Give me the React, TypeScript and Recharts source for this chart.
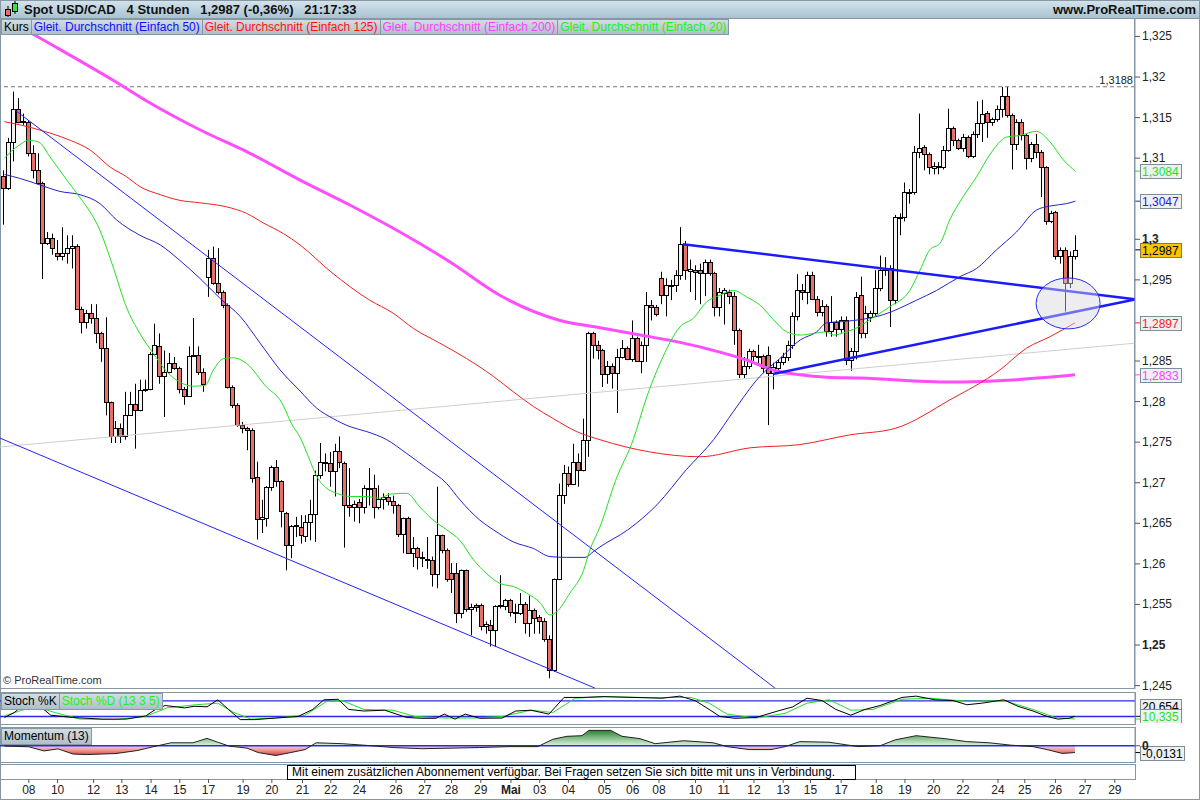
import React from 'react';
import { ComposedChart, Bar, Line, Area, XAxis, YAxis, ReferenceLine, ReferenceDot } from 'recharts';

// 4h candles (index 0 = first candle on the left)
const OPEN = [
  1.3078, 1.3063, 1.3120, 1.3160, 1.3146, 1.3145, 1.3106, 1.3086, 1.3069, 1.2995,
  1.3001, 1.2983, 1.2979, 1.2983, 1.2989, 1.2992, 1.2914, 1.2898, 1.2909, 1.2903,
  1.2884, 1.2866, 1.2799, 1.2758, 1.2768, 1.2758, 1.2784, 1.2797, 1.2790, 1.2814,
  1.2816, 1.2859, 1.2869, 1.2832, 1.2836, 1.2848, 1.2841, 1.2815, 1.2807, 1.2856,
  1.2857, 1.2836, 1.2953, 1.2977, 1.2946, 1.2935, 1.2919, 1.2818, 1.2796, 1.2771,
  1.2767, 1.2765, 1.2707, 1.2655, 1.2657, 1.2695, 1.2719, 1.2702, 1.2663, 1.2623,
  1.2647, 1.2646, 1.2634, 1.2652, 1.2661, 1.2709, 1.2724, 1.2724, 1.2715, 1.2739,
  1.2724, 1.2672, 1.2670, 1.2676, 1.2670, 1.2694, 1.2694, 1.2670, 1.2680, 1.2683,
  1.2677, 1.2672, 1.2637, 1.2657, 1.2614, 1.2619, 1.2609, 1.2605, 1.2605, 1.2587,
  1.2635, 1.2617, 1.2589, 1.2589, 1.2540, 1.2593, 1.2544, 1.2549, 1.2549, 1.2523,
  1.2525, 1.2519, 1.2548, 1.2548, 1.2555, 1.2541, 1.2539, 1.2550, 1.2527, 1.2543,
  1.2534, 1.2529, 1.2508, 1.2469, 1.2581, 1.2685, 1.2712, 1.2699, 1.2726, 1.2716,
  1.2753, 1.2884, 1.2870, 1.2863, 1.2834, 1.2844, 1.2835, 1.2855, 1.2866, 1.2853,
  1.2878, 1.2850, 1.2870, 1.2919, 1.2917, 1.2952, 1.2931, 1.2944, 1.2944, 1.2956,
  1.2994, 1.2961, 1.2962, 1.2962, 1.2958, 1.2972, 1.2958, 1.2916, 1.2934, 1.2935,
  1.2930, 1.2888, 1.2834, 1.2844, 1.2862, 1.2855, 1.2856, 1.2858, 1.2835, 1.2841,
  1.2849, 1.2855, 1.2870, 1.2905, 1.2938, 1.2935, 1.2956, 1.2927, 1.2911, 1.2918,
  1.2887, 1.2898, 1.2890, 1.2901, 1.2851, 1.2862, 1.2931, 1.2884, 1.2904, 1.2909,
  1.2940, 1.2962, 1.2965, 1.2925, 1.3027, 1.3028, 1.3057, 1.3058, 1.3108, 1.3114,
  1.3105, 1.3088, 1.3089, 1.3089, 1.3110, 1.3137, 1.3122, 1.3112, 1.3126, 1.3103,
  1.3130, 1.3143, 1.3156, 1.3144, 1.3148, 1.3160, 1.3176, 1.3153, 1.3117, 1.3145,
  1.3129, 1.3100, 1.3117, 1.3108, 1.3089, 1.3022, 1.3034, 1.2979, 1.2987, 1.2946, 1.2979,
];
const HIGH = [
  1.3085, 1.3125, 1.3182, 1.3174, 1.3155, 1.3147, 1.3116, 1.3106, 1.3071, 1.3009,
  1.3007, 1.2999, 1.3015, 1.3005, 1.3005, 1.2994, 1.2917, 1.2913, 1.2920, 1.2920,
  1.2886, 1.2904, 1.2800, 1.2776, 1.2773, 1.2812, 1.2812, 1.2822, 1.2827, 1.2827,
  1.2861, 1.2896, 1.2884, 1.2863, 1.2860, 1.2855, 1.2843, 1.2818, 1.2868, 1.2903,
  1.2868, 1.2841, 1.2987, 1.2991, 1.2989, 1.2937, 1.2921, 1.2820, 1.2798, 1.2775,
  1.2769, 1.2767, 1.2726, 1.2679, 1.2696, 1.2721, 1.2728, 1.2703, 1.2664, 1.2648,
  1.2658, 1.2660, 1.2660, 1.2679, 1.2715, 1.2749, 1.2736, 1.2738, 1.2748, 1.2757,
  1.2726, 1.2718, 1.2678, 1.2680, 1.2697, 1.2718, 1.2710, 1.2697, 1.2687, 1.2687,
  1.2684, 1.2674, 1.2657, 1.2658, 1.2633, 1.2621, 1.2615, 1.2633, 1.2609, 1.2695,
  1.2636, 1.2619, 1.2601, 1.2601, 1.2593, 1.2593, 1.2551, 1.2551, 1.2551, 1.2529,
  1.2531, 1.2549, 1.2586, 1.2557, 1.2557, 1.2551, 1.2564, 1.2553, 1.2561, 1.2545,
  1.2537, 1.2533, 1.2512, 1.2582, 1.2699, 1.2722, 1.2720, 1.2748, 1.2736, 1.2779,
  1.2886, 1.2886, 1.2875, 1.2865, 1.2850, 1.2847, 1.2865, 1.2876, 1.2868, 1.2900,
  1.2880, 1.2874, 1.2935, 1.2925, 1.2919, 1.2960, 1.2952, 1.2950, 1.2962, 1.3015,
  1.2998, 1.2975, 1.2968, 1.2970, 1.2975, 1.2975, 1.2960, 1.2940, 1.2940, 1.2938,
  1.2935, 1.2890, 1.2855, 1.2865, 1.2864, 1.2870, 1.2858, 1.2868, 1.2848, 1.2852,
  1.2860, 1.2875, 1.2910, 1.2957, 1.2945, 1.2960, 1.2960, 1.2930, 1.2925, 1.2920,
  1.2930, 1.2900, 1.2905, 1.2905, 1.2866, 1.2935, 1.2954, 1.2918, 1.2912, 1.2962,
  1.2980, 1.2978, 1.2968, 1.3030, 1.3032, 1.3070, 1.3062, 1.3115, 1.3155, 1.3116,
  1.3107, 1.3095, 1.3095, 1.3115, 1.3161, 1.3139, 1.3124, 1.3130, 1.3128, 1.3133,
  1.3170, 1.3172, 1.3158, 1.3150, 1.3165, 1.3188, 1.3188, 1.3155, 1.3148, 1.3148,
  1.3130, 1.3120, 1.3130, 1.3110, 1.3090, 1.3035, 1.3035, 1.2990, 1.2990, 1.2985, 1.3005,
];
const LOW = [
  1.3018, 1.3061, 1.3096, 1.3143, 1.3141, 1.3102, 1.3075, 1.3067, 1.2951, 1.2993,
  1.2981, 1.2974, 1.2974, 1.2970, 1.2964, 1.2913, 1.2884, 1.2890, 1.2896, 1.2872,
  1.2849, 1.2783, 1.2749, 1.2749, 1.2749, 1.2753, 1.2783, 1.2742, 1.2788, 1.2812,
  1.2814, 1.2857, 1.2822, 1.2781, 1.2835, 1.2839, 1.2810, 1.2796, 1.2806, 1.2855,
  1.2833, 1.2812, 1.2929, 1.2944, 1.2932, 1.2915, 1.2816, 1.2792, 1.2769, 1.2761,
  1.2740, 1.2700, 1.2630, 1.2638, 1.2646, 1.2690, 1.2695, 1.2645, 1.2592, 1.2607,
  1.2633, 1.2625, 1.2627, 1.2629, 1.2627, 1.2705, 1.2714, 1.2695, 1.2683, 1.2718,
  1.2620, 1.2658, 1.2652, 1.2650, 1.2662, 1.2672, 1.2656, 1.2667, 1.2667, 1.2672,
  1.2662, 1.2633, 1.2613, 1.2613, 1.2596, 1.2593, 1.2596, 1.2594, 1.2572, 1.2570,
  1.2613, 1.2578, 1.2564, 1.2527, 1.2533, 1.2541, 1.2512, 1.2541, 1.2518, 1.2514,
  1.2498, 1.2498, 1.2545, 1.2543, 1.2535, 1.2527, 1.2537, 1.2514, 1.2510, 1.2514,
  1.2514, 1.2504, 1.2459, 1.2467, 1.2580, 1.2674, 1.2695, 1.2697, 1.2695, 1.2714,
  1.2732, 1.2853, 1.2852, 1.2818, 1.2822, 1.2816, 1.2786, 1.2853, 1.2851, 1.2849,
  1.2849, 1.2835, 1.2849, 1.2900, 1.2905, 1.2920, 1.2905, 1.2925, 1.2935, 1.2950,
  1.2950, 1.2935, 1.2925, 1.2920, 1.2930, 1.2955, 1.2905, 1.2905, 1.2895, 1.2920,
  1.2870, 1.2829, 1.2829, 1.2840, 1.2850, 1.2845, 1.2835, 1.2771, 1.2815, 1.2836,
  1.2845, 1.2850, 1.2865, 1.2900, 1.2925, 1.2920, 1.2925, 1.2905, 1.2905, 1.2880,
  1.2880, 1.2880, 1.2885, 1.2845, 1.2838, 1.2852, 1.2878, 1.2878, 1.2898, 1.2905,
  1.2936, 1.2955, 1.2892, 1.2920, 1.3005, 1.3022, 1.3044, 1.3055, 1.3100, 1.3085,
  1.3080, 1.3080, 1.3080, 1.3086, 1.3108, 1.3115, 1.3110, 1.3108, 1.3100, 1.3100,
  1.3125, 1.3120, 1.3125, 1.3140, 1.3145, 1.3150, 1.3150, 1.3086, 1.3110, 1.3122,
  1.3086, 1.3095, 1.3100, 1.3052, 1.3018, 1.3020, 1.2975, 1.2970, 1.2911, 1.2940, 1.2975,
];
const CLOSE = [
  1.3063, 1.3120, 1.3160, 1.3145, 1.3144, 1.3106, 1.3086, 1.3069, 1.2995, 1.3001,
  1.2989, 1.2979, 1.2983, 1.2989, 1.2992, 1.2914, 1.2898, 1.2909, 1.2903, 1.2884,
  1.2866, 1.2799, 1.2758, 1.2768, 1.2758, 1.2784, 1.2797, 1.2790, 1.2814, 1.2816,
  1.2859, 1.2870, 1.2832, 1.2836, 1.2848, 1.2841, 1.2815, 1.2807, 1.2856, 1.2857,
  1.2836, 1.2822, 1.2977, 1.2946, 1.2935, 1.2919, 1.2818, 1.2796, 1.2771, 1.2767,
  1.2765, 1.2706, 1.2655, 1.2658, 1.2695, 1.2719, 1.2702, 1.2665, 1.2623, 1.2647,
  1.2648, 1.2635, 1.2652, 1.2661, 1.2709, 1.2725, 1.2725, 1.2715, 1.2739, 1.2725,
  1.2672, 1.2670, 1.2674, 1.2670, 1.2694, 1.2694, 1.2670, 1.2680, 1.2683, 1.2677,
  1.2672, 1.2637, 1.2657, 1.2614, 1.2619, 1.2608, 1.2607, 1.2606, 1.2587, 1.2635,
  1.2617, 1.2581, 1.2581, 1.2540, 1.2593, 1.2544, 1.2547, 1.2547, 1.2523, 1.2526,
  1.2519, 1.2548, 1.2549, 1.2555, 1.2541, 1.2539, 1.2550, 1.2527, 1.2543, 1.2533,
  1.2529, 1.2508, 1.2469, 1.2581, 1.2685, 1.2712, 1.2699, 1.2726, 1.2716, 1.2753,
  1.2884, 1.2870, 1.2863, 1.2834, 1.2844, 1.2835, 1.2855, 1.2866, 1.2853, 1.2878,
  1.2850, 1.2870, 1.2919, 1.2917, 1.2908, 1.2931, 1.2944, 1.2944, 1.2956, 1.2994,
  1.2962, 1.2963, 1.2960, 1.2958, 1.2972, 1.2958, 1.2916, 1.2935, 1.2937, 1.2930,
  1.2888, 1.2834, 1.2844, 1.2862, 1.2856, 1.2856, 1.2841, 1.2835, 1.2843, 1.2849,
  1.2855, 1.2870, 1.2905, 1.2938, 1.2935, 1.2956, 1.2927, 1.2911, 1.2918, 1.2887,
  1.2898, 1.2890, 1.2901, 1.2851, 1.2862, 1.2929, 1.2884, 1.2909, 1.2909, 1.2940,
  1.2962, 1.2965, 1.2925, 1.3027, 1.3028, 1.3058, 1.3058, 1.3108, 1.3112, 1.3105,
  1.3089, 1.3090, 1.3090, 1.3110, 1.3137, 1.3122, 1.3112, 1.3126, 1.3103, 1.3130,
  1.3143, 1.3155, 1.3144, 1.3148, 1.3160, 1.3176, 1.3153, 1.3117, 1.3145, 1.3129,
  1.3100, 1.3117, 1.3108, 1.3089, 1.3022, 1.3033, 1.2979, 1.2987, 1.2946, 1.2979, 1.2987,
];

// moving averages, [candle index, price] read at sample points
const SMA20: [number, number][] = [
  [0, 1.3100], [3, 1.3116], [5, 1.3122], [7, 1.3120], [9.3, 1.3102], [12.8, 1.3073], [14.8, 1.3057],
  [19.6, 1.3011], [22.3, 1.2966], [25, 1.2917], [27.8, 1.2884], [30.6, 1.2859], [33.3, 1.2837],
  [36, 1.2824], [38.8, 1.2819], [41.2, 1.2820], [42.9, 1.2839], [45, 1.2853], [47, 1.2854],
  [49.7, 1.2847], [53.8, 1.2818], [56.6, 1.2802], [59.3, 1.2769], [60.7, 1.2756], [62.4, 1.2732],
  [64.1, 1.2708], [66.2, 1.2693], [68.2, 1.2687], [71, 1.2683], [74.4, 1.2683], [77.1, 1.2681],
  [79.2, 1.2686], [82.6, 1.2687], [85.3, 1.2670], [88, 1.2654], [90.8, 1.2642], [93.5, 1.2629],
  [96.3, 1.2605], [99, 1.2588], [101.7, 1.2576], [104.5, 1.2572], [107.2, 1.2564], [110, 1.2552],
  [112, 1.2537], [113.4, 1.2541], [116.1, 1.2564], [118.9, 1.2592], [120.2, 1.2617], [122.3, 1.2646],
  [125.5, 1.2703], [129.1, 1.2753], [131.9, 1.2806], [134.6, 1.2847], [138.7, 1.2892], [141.5, 1.2903],
  [144.2, 1.2923], [146.9, 1.2931], [149.7, 1.2937], [152.4, 1.2929], [155.1, 1.2919], [157.9, 1.2901],
  [160.6, 1.2886], [163.4, 1.2882], [166.1, 1.2884], [168.8, 1.2886], [170.2, 1.2882], [172.9, 1.2886],
  [175.7, 1.2893], [177.7, 1.2901], [181.8, 1.2917], [185.9, 1.2937], [188, 1.2962], [190, 1.2987],
  [192.1, 1.2995], [194.1, 1.3024], [196.9, 1.3053], [199.6, 1.3077], [202.3, 1.3104], [205.8, 1.3126],
  [208.5, 1.3128], [211.9, 1.3133], [214.7, 1.3120], [217.4, 1.3098], [219.9, 1.3084],
];
const SMA50: [number, number][] = [
  [0, 1.3080], [3.2, 1.3075], [7.3, 1.3067], [11.4, 1.3059], [15.5, 1.3055], [19.6, 1.3044], [23, 1.3024],
  [27.8, 1.3005], [32, 1.2993], [36, 1.2974], [40.1, 1.2952], [44.3, 1.2927], [48.4, 1.2905],
  [52.5, 1.2872], [56.6, 1.2839], [60.7, 1.2813], [64.1, 1.2792], [67.5, 1.2779], [71, 1.2769],
  [74.4, 1.2763], [78.5, 1.2753], [82.6, 1.2736], [86.7, 1.2718], [90.8, 1.2699], [93.5, 1.2679],
  [97.6, 1.2654], [100.4, 1.2642], [104.5, 1.2627], [108.6, 1.2619], [112, 1.2609], [115.4, 1.2608],
  [119.2, 1.2608], [120.9, 1.2615], [122.3, 1.2621], [128, 1.2642], [134, 1.2673], [140, 1.2716],
  [145.6, 1.2753], [149.7, 1.2788], [155.1, 1.2831], [159.2, 1.2853], [163.4, 1.2876], [166.8, 1.2886],
  [168.8, 1.2897], [172.9, 1.2899], [175.7, 1.2901], [180.4, 1.2907], [187.3, 1.2925], [191.4, 1.2937],
  [196.2, 1.2954], [199.6, 1.2964], [203.7, 1.2987], [207.8, 1.3009], [211.9, 1.3036], [214.7, 1.3041],
  [218.1, 1.3044], [219.9, 1.3047],
];
const SMA125: [number, number][] = [
  [0, 1.3145], [3.2, 1.3141], [9.3, 1.3131], [13.5, 1.3122], [17.6, 1.3110], [21.7, 1.3089], [25.1, 1.3077],
  [27.8, 1.3065], [32, 1.3055], [36, 1.3048], [40.1, 1.3045], [45.6, 1.3040], [49.7, 1.3032],
  [53.2, 1.3020], [57.3, 1.3007], [60.7, 1.2993], [67, 1.2960], [75, 1.2925], [79.8, 1.2909],
  [84, 1.2890], [89.4, 1.2872], [94.9, 1.2853], [100.4, 1.2831], [104.5, 1.2812], [108.6, 1.2794],
  [112.7, 1.2779], [117.5, 1.2763], [122.3, 1.2753], [132.5, 1.2738], [142.8, 1.2732], [153.1, 1.2743],
  [163.3, 1.2747], [173.6, 1.2759], [182.9, 1.2767], [194.1, 1.2802], [204.4, 1.2839], [209.9, 1.2866],
  [214.7, 1.2880], [219.8, 1.2897],
];
const SMA200: [number, number][] = [
  [0, 1.3273], [7, 1.3249], [22.3, 1.3196], [29.9, 1.3168], [40.1, 1.3135], [50.4, 1.3106], [60.7, 1.3073],
  [71, 1.3042], [81.2, 1.3009], [91.5, 1.2972], [101.7, 1.2931], [114.1, 1.2900], [122.3, 1.2891],
  [130.5, 1.2882], [138.7, 1.2873], [146.9, 1.2861], [152.5, 1.2851], [157.8, 1.2839], [163.3, 1.2833],
  [168.9, 1.2830], [175.7, 1.2829], [194.1, 1.2824], [207.9, 1.2827], [219.8, 1.2833],
];

// Stochastic %K / %D (13 3 5)
const STOCH_K: [number, number][] = [
  [0, 16], [2, 35], [4, 65], [6, 81], [7.3, 59], [9.5, 25], [14, 16], [20, 10], [25, 10], [29, 22],
  [31, 47], [33, 62], [37, 53], [39, 59], [41.6, 57], [43.8, 84], [46, 47], [48.4, 8], [51.4, 8],
  [55.7, 14], [60.3, 20], [63.3, 47], [65.6, 84], [68.5, 86], [70.7, 47], [73.8, 41], [78.1, 44],
  [82.6, 16], [85.7, 13], [88.6, 13], [90.3, 29], [92.5, 10], [94.6, 29], [97.6, 13], [102.2, 14],
  [105, 41], [108.1, 44], [111.8, 29], [114.9, 93], [118.6, 93], [123.1, 96], [129.1, 93], [135, 90],
  [138.7, 98], [141.8, 81], [144.7, 47], [146.9, 20], [150, 13], [154.3, 16], [158.8, 41], [161.9, 57],
  [164.8, 90], [167.9, 81], [170.7, 47], [173.8, 25], [176.7, 47], [179.8, 62], [184.3, 93], [187.2, 98],
  [191.1, 84], [194.8, 81], [197.6, 65], [200.7, 71], [205.2, 84], [208.1, 59], [211.2, 41], [214.1, 20],
  [216.3, 10], [218.6, 13], [219.8, 20.654],
];
const STOCH_D: [number, number][] = [
  [0, 22], [3.6, 44], [6.5, 57], [10.4, 35], [15.5, 10], [22.9, 8], [28.9, 20], [33.4, 53], [39.3, 65],
  [43.8, 71], [46.9, 37], [50.6, 10], [55.7, 14], [61.7, 25], [66.2, 78], [69.3, 81], [73.8, 47],
  [79.8, 44], [84.3, 20], [90.3, 14], [96.2, 14], [102.2, 20], [108.1, 44], [112.6, 35], [117.2, 90],
  [123.1, 96], [133.6, 92], [141, 93], [144.7, 71], [148.4, 29], [154.3, 14], [160.3, 32], [164.8, 71],
  [169.3, 84], [173.8, 44], [178.3, 47], [184.3, 86], [190.2, 90], [197.6, 78], [205.2, 81], [211.2, 47],
  [215.7, 16], [219.8, 10.335],
];

// Momentum (13)
const MOMENTUM: [number, number][] = [
  [0, -0.0006], [5, -0.002], [8.1, -0.010], [11, -0.006], [14.1, -0.016], [16.9, -0.017], [22.9, -0.015],
  [27.4, -0.009], [30.5, -0.002], [34.2, 0.0057], [38.7, 0.0057], [41.6, 0.0142], [43.8, 0.0068],
  [46.1, -0.0006], [49.8, -0.0046], [52.1, -0.0131], [55.7, -0.0188], [58.8, -0.0131], [61.7, -0.0074],
  [64, 0.0057], [69.3, 0.004], [73.8, 0.0011], [79.8, -0.0034], [85.7, -0.0057], [91.7, -0.0046],
  [97.6, -0.0034], [103.6, -0.0017], [109.5, -0.0017], [112.6, 0.0125], [115.5, 0.0182], [118.6, 0.0194],
  [120, 0.0296], [124.5, 0.0296], [126.8, 0.0182], [130.5, 0.0137], [133.6, 0.004], [139.5, 0.0097],
  [145.5, 0.0057], [148.4, -0.0017], [152.9, -0.0074], [157.4, -0.0074], [160.3, -0.0017], [163.3, 0.008],
  [169.3, 0.0068], [175.3, -0.0017], [179.8, 0], [182.9, 0.0114], [187.2, 0.0194], [193.1, 0.0137],
  [197.6, 0.008], [202.2, 0.0057], [206.7, 0.0011], [211.2, -0.0017], [214.1, -0.0074], [217.2, -0.0148],
  [219.8, -0.0131],
];

const PRICE_TICKS = [1.245, 1.25, 1.255, 1.26, 1.265, 1.27, 1.275, 1.28, 1.285, 1.295, 1.3, 1.31, 1.315, 1.32, 1.325];
const DATE_TICKS = [5, 10.9, 18.3, 24.1, 30.1, 36, 41.9, 49, 54.9, 61.2, 67, 72.9, 80.4, 86.3, 91.8, 97.8, 104, 109.9,
  115.8, 123.2, 129, 134.4, 141.9, 147.7, 153.9, 159.9, 165.5, 171.8, 179, 184.9, 190.8, 196.8, 204, 209.5, 215.8, 221.9, 228];
const DATE_LABELS = ['08', '10', '12', '13', '14', '15', '17', '19', '20', '21', '22', '24', '26', '27', '28', '29', 'Mai', '03',
  '04', '05', '06', '08', '10', '11', '12', '13', '15', '17', '18', '19', '20', '22', '24', '25', '26', '27', '29'];

const X_DOMAIN: [number, number] = [-0.92, 232.14];
const PRICE_DOMAIN: [number, number] = [1.24458, 1.32715];
const FONT = '"Liberation Sans", Arial, Helvetica, sans-serif';
const FRAME = '#8797a3';

const candles = OPEN.map((o, i) => ({ i, o, h: HIGH[i], l: LOW[i], c: CLOSE[i], range: [LOW[i], HIGH[i]] }));
const pts = (arr: [number, number][]) => arr.map(([i, v]) => ({ i, v }));

const fmt = (v: number) => String(Number(v.toFixed(4))).replace('.', ',');

function Candle(props: any) {
  const { x, y, width, height, payload } = props;
  if (x == null || !payload) return null;
  const { o, c, h, l } = payload;
  const cx = Math.round(x + width / 2);
  const span = h - l;
  const toY = (v: number) => (span > 0 ? y + ((h - v) / span) * height : y);
  const top = Math.round(toY(Math.max(o, c)));
  const bot = Math.round(toY(Math.min(o, c)));
  return (
    <g>
      <line x1={cx - 0.5} x2={cx - 0.5} y1={y} y2={y + height} stroke="#000" strokeWidth={1} />
      <rect x={cx - 2.5} y={top + 0.5} width={4} height={Math.max(bot - top, 1)}
        fill={c >= o ? '#f4f4f4' : '#e8706a'} stroke="#000" strokeWidth={1} />
    </g>
  );
}

function PriceTick(props: any) {
  const { x, y, payload } = props;
  const v = payload.value;
  const bold = Math.abs(v - 1.3) < 1e-6 || Math.abs(v - 1.25) < 1e-6;
  return (
    <text x={x} y={y + 4} fontSize={12} fontFamily={FONT} fontWeight={bold ? 700 : 400} fill="#222" textAnchor="start">
      {fmt(v)}
    </text>
  );
}

function BoldTick(props: any) {
  const { x, y, payload, shift = 4 } = props;
  return (
    <text x={x} y={y + shift} fontSize={12} fontFamily={FONT} fontWeight={700} fill="#222" textAnchor="start">
      {fmt(payload.value)}
    </text>
  );
}

function DateTick(props: any) {
  const { x, y, index } = props;
  const lab = DATE_LABELS[index];
  return (
    <text x={x} y={y + 9} fontSize={12} fontFamily={FONT} fontWeight={lab === 'Mai' ? 700 : 400} fill="#222" textAnchor="middle">
      {lab}
    </text>
  );
}

function ValueBox(props: any) {
  const { viewBox, txt, clr, bgc = '#eef0f2', dy = 0, w = 41, border = '#7d8d99' } = props;
  if (!viewBox) return null;
  const x = viewBox.x + viewBox.width;
  const y = viewBox.y + dy;
  return (
    <g>
      <line x1={x} x2={x + 5} y1={viewBox.y} y2={viewBox.y} stroke={clr} />
      <rect x={x + 5.5} y={Math.round(y) - 6.5} width={w} height={14} fill={bgc} stroke={border} />
      <text x={x + 7} y={Math.round(y) + 4.5} fontSize={12} fontFamily={FONT} fill={clr}>{txt}</text>
    </g>
  );
}

function DashLabel(props: any) {
  const { viewBox } = props;
  if (!viewBox) return null;
  return (
    <text x={viewBox.x + viewBox.width - 2} y={viewBox.y - 3} fontSize={11} fontFamily={FONT} fill="#222" textAnchor="end">
      1,3188
    </text>
  );
}

const legendBox: React.CSSProperties = {
  height: 14, lineHeight: '14px', fontSize: 12, padding: '0 2px', border: `1px solid ${FRAME}`,
  background: 'linear-gradient(#d2dde4, #aebfca)', marginRight: -1, whiteSpace: 'nowrap',
};

const noMargin = { top: 0, right: 0, bottom: 0, left: 0 };

export default function App() {
  const momMax = Math.max(...MOMENTUM.map((d) => d[1]));
  const momMin = Math.min(...MOMENTUM.map((d) => d[1]));
  const zeroOff = momMax / (momMax - momMin);

  return (
    <div style={{ position: 'absolute', left: 0, top: 0, width: 1200, height: 800, background: '#fff', overflow: 'hidden', fontFamily: FONT }}>
      {/* header */}
      <div style={{ position: 'absolute', left: 0, top: 0, width: 1200, height: 18, background: 'linear-gradient(#d6e4ec, #a9c3d1)', borderBottom: `1px solid ${FRAME}` }}>
        <svg width={18} height={18} style={{ position: 'absolute', left: 3, top: 0 }}>
          <line x1={5} x2={5} y1={6} y2={17} stroke="#000" />
          <rect x={2.5} y={9.5} width={5} height={6} fill="#e8706a" stroke="#000" />
          <line x1={12} x2={12} y1={1} y2={14} stroke="#000" />
          <rect x={9.5} y={3.5} width={5} height={8} fill="#3ee23e" stroke="#000" />
        </svg>
        <div style={{ position: 'absolute', left: 24, top: 2, fontSize: 13, fontWeight: 700, color: '#111', whiteSpace: 'pre' }}>
          Spot USD/CAD{'   '}4 Stunden{'   '}1,2987 (-0,36%){'   '}21:17:33
        </div>
        <div style={{ position: 'absolute', right: 4, top: 2, fontSize: 13, fontWeight: 700, color: '#111' }}>www.ProRealTime.com</div>
      </div>

      {/* panel frames */}
      <div style={{ position: 'absolute', left: 0, top: 19, width: 1135, height: 670, borderLeft: `1px solid ${FRAME}`, borderRight: `1px solid ${FRAME}`, borderBottom: `1px solid ${FRAME}`, boxSizing: 'border-box' }} />
      <div style={{ position: 'absolute', left: 0, top: 692, width: 1136, height: 33, border: `1px solid ${FRAME}`, boxSizing: 'border-box' }} />
      <div style={{ position: 'absolute', left: 0, top: 727, width: 1136, height: 36, border: `1px solid ${FRAME}`, boxSizing: 'border-box' }} />
      <div style={{ position: 'absolute', left: 0, top: 764, width: 1136, height: 16, border: `1px solid ${FRAME}`, boxSizing: 'border-box' }} />
      <div style={{ position: 'absolute', left: 0, top: 0, width: 1200, height: 800, border: `1px solid ${FRAME}`, boxSizing: 'border-box' }} />

      {/* main price chart */}
      <div style={{ position: 'absolute', left: 0, top: 19 }}>
        <ComposedChart width={1200} height={674} data={candles} margin={{ top: 0, right: 0, bottom: 4, left: 0 }}>
          <XAxis dataKey="i" type="number" domain={X_DOMAIN} allowDataOverflow hide />
          <YAxis orientation="right" width={65} domain={PRICE_DOMAIN} allowDataOverflow ticks={PRICE_TICKS} interval={0}
            tick={<PriceTick />} tickSize={5} tickMargin={2} tickLine={{ stroke: '#555' }} axisLine={{ stroke: FRAME }} />
          <ReferenceLine y={1.3188} stroke="#777" strokeDasharray="4 3" label={<DashLabel />} />
          <ReferenceLine segment={[{ x: -0.92, y: 1.2744 }, { x: 232.14, y: 1.2872 }]} stroke="#cfcfcf" ifOverflow="hidden" />
          <Bar dataKey="range" barSize={5} shape={(p: any) => <Candle {...p} />} isAnimationActive={false} />
          <Line data={pts(SMA200)} dataKey="v" type="monotone" stroke="#ff4dff" strokeWidth={3} dot={false} isAnimationActive={false} />
          <Line data={pts(SMA125)} dataKey="v" type="monotone" stroke="#f02020" strokeWidth={1} dot={false} isAnimationActive={false} />
          <Line data={pts(SMA50)} dataKey="v" type="monotone" stroke="#2424c8" strokeWidth={1} dot={false} isAnimationActive={false} />
          <Line data={pts(SMA20)} dataKey="v" type="monotone" stroke="#22e022" strokeWidth={1} dot={false} isAnimationActive={false} />
          <ReferenceDot x={218.4} y={1.2921} ifOverflow="visible"
            shape={(p: any) => <ellipse cx={p.cx} cy={p.cy} rx={32} ry={25.5} fill="rgba(215,215,222,0.45)" stroke="#2a2aff" strokeWidth={1} />} />
          <ReferenceLine segment={[{ x: 2, y: 1.3160 }, { x: 158.2, y: 1.2447 }]} stroke="#2323ff" strokeWidth={1} ifOverflow="hidden" />
          <ReferenceLine segment={[{ x: -0.92, y: 1.2755 }, { x: 121.2, y: 1.2447 }]} stroke="#2323ff" strokeWidth={1} ifOverflow="hidden" />
          <ReferenceLine segment={[{ x: 139.3, y: 1.2994 }, { x: 232.14, y: 1.2926 }]} stroke="#1a1aff" strokeWidth={2.5} ifOverflow="hidden" />
          <ReferenceLine segment={[{ x: 157.8, y: 1.2834 }, { x: 232.14, y: 1.2926 }]} stroke="#1a1aff" strokeWidth={2.5} ifOverflow="hidden" />
          <ReferenceLine y={1.3084} stroke="none" label={<ValueBox txt="1,3084" clr="#19e619" />} />
          <ReferenceLine y={1.3047} stroke="none" label={<ValueBox txt="1,3047" clr="#2020ee" />} />
          <ReferenceLine y={1.2987} stroke="none" label={<ValueBox txt="1,2987" clr="#000" bgc="#f7c600" border="#8c7a3a" />} />
          <ReferenceLine y={1.2897} stroke="none" label={<ValueBox txt="1,2897" clr="#ff1a1a" />} />
          <ReferenceLine y={1.2833} stroke="none" label={<ValueBox txt="1,2833" clr="#ff40ff" />} />
        </ComposedChart>
      </div>

      {/* legend row */}
      <div style={{ position: 'absolute', left: 1, top: 19, display: 'flex' }}>
        <div style={{ ...legendBox, color: '#000' }}>Kurs</div>
        <div style={{ ...legendBox, color: '#1010ff' }}>Gleit. Durchschnitt (Einfach 50)</div>
        <div style={{ ...legendBox, color: '#ff1010' }}>Gleit. Durchschnitt (Einfach 125)</div>
        <div style={{ ...legendBox, color: '#ff40ff' }}>Gleit. Durchschnitt (Einfach 200)</div>
        <div style={{ ...legendBox, color: '#20f020' }}>Gleit. Durchschnitt (Einfach 20)</div>
      </div>
      <div style={{ position: 'absolute', left: 3, top: 674, fontSize: 11, color: '#333' }}>© ProRealTime.com</div>

      {/* stochastic */}
      <div style={{ position: 'absolute', left: 0, top: 693 }}>
        <ComposedChart width={1200} height={30} margin={noMargin}>
          <XAxis dataKey="i" type="number" domain={X_DOMAIN} allowDataOverflow hide />
          <YAxis orientation="right" width={65} domain={[-5, 110]} allowDataOverflow ticks={[100]} tick={<BoldTick shift={7} />}
            tickSize={5} tickMargin={2} tickLine={{ stroke: '#555' }} axisLine={{ stroke: FRAME }} />
          <ReferenceLine y={80} stroke="#2a2ae8" strokeWidth={1.3} />
          <ReferenceLine y={20} stroke="#2a2ae8" strokeWidth={1.3} />
          <Line data={pts(STOCH_D)} dataKey="v" type="linear" stroke="#22e022" strokeWidth={1} dot={false} isAnimationActive={false} />
          <Line data={pts(STOCH_K)} dataKey="v" type="linear" stroke="#000" strokeWidth={1} dot={false} isAnimationActive={false} />
          <ReferenceLine y={20.654} stroke="none" label={<ValueBox txt="20,654" clr="#000" dy={-10} />} />
          <ReferenceLine y={10.335} stroke="none" label={<ValueBox txt="10,335" clr="#19e619" dy={-3} />} />
        </ComposedChart>
      </div>
      <div style={{ position: 'absolute', left: 1, top: 693, display: 'flex' }}>
        <div style={{ ...legendBox, height: 15, lineHeight: '15px', color: '#000' }}>Stoch %K</div>
        <div style={{ ...legendBox, height: 15, lineHeight: '15px', color: '#20f020' }}>Stoch %D (13 3 5)</div>
      </div>

      {/* momentum */}
      <div style={{ position: 'absolute', left: 0, top: 728 }}>
        <ComposedChart width={1200} height={34} margin={noMargin}>
          <defs>
            <linearGradient id="momFill" x1="0" y1="0" x2="0" y2="1">
              <stop offset="0" stopColor="#2f7f34" />
              <stop offset={zeroOff * 0.55} stopColor="#8cc48e" />
              <stop offset={zeroOff} stopColor="#e3f1e3" />
              <stop offset={zeroOff} stopColor="#f6cccc" />
              <stop offset={zeroOff + (1 - zeroOff) * 0.45} stopColor="#ec9a9a" />
              <stop offset="1" stopColor="#d63c3c" />
            </linearGradient>
          </defs>
          <XAxis dataKey="i" type="number" domain={X_DOMAIN} allowDataOverflow hide />
          <YAxis orientation="right" width={65} domain={[-0.0313, 0.0342]} allowDataOverflow ticks={[0]} tick={<BoldTick />}
            tickSize={5} tickMargin={2} tickLine={{ stroke: '#555' }} axisLine={{ stroke: FRAME }} />
          <Area data={pts(MOMENTUM)} dataKey="v" type="linear" baseValue={0} fill="url(#momFill)" fillOpacity={1} stroke="none" isAnimationActive={false} />
          <ReferenceLine y={0} stroke="#2a2ae8" strokeWidth={1.3} />
          <Line data={pts(MOMENTUM)} dataKey="v" type="linear" stroke="#222" strokeWidth={1} dot={false} isAnimationActive={false} />
          <ReferenceLine y={-0.0131} stroke="none" label={<ValueBox txt="-0,0131" clr="#000" w={44} />} />
        </ComposedChart>
      </div>
      <div style={{ position: 'absolute', left: 1, top: 728, display: 'flex' }}>
        <div style={{ ...legendBox, height: 15, lineHeight: '15px', color: '#000' }}>Momentum (13)</div>
      </div>

      {/* notice */}
      <div style={{ position: 'absolute', left: 287, top: 765, width: 563, height: 13, border: '1px solid #000', background: '#fff', fontSize: 12, lineHeight: '13px', paddingLeft: 4, whiteSpace: 'nowrap', boxSizing: 'content-box' }}>
        Mit einem zusätzlichen Abonnement verfügbar. Bei Fragen setzen Sie sich bitte mit uns in Verbindung.
      </div>

      {/* date axis */}
      <div style={{ position: 'absolute', left: 0, top: 778 }}>
        <ComposedChart width={1200} height={22} margin={{ top: 0, right: 65, bottom: 0, left: 0 }}>
          <XAxis dataKey="i" type="number" domain={X_DOMAIN} allowDataOverflow ticks={DATE_TICKS} interval={0}
            tick={<DateTick />} tickSize={4} tickLine={{ stroke: '#555' }} axisLine={false} height={21} />
          <YAxis hide domain={[0, 1]} />
          <Line data={DATE_TICKS.map((i) => ({ i, v: 0 }))} dataKey="v" stroke="none" dot={false} isAnimationActive={false} />
        </ComposedChart>
      </div>
    </div>
  );
}
